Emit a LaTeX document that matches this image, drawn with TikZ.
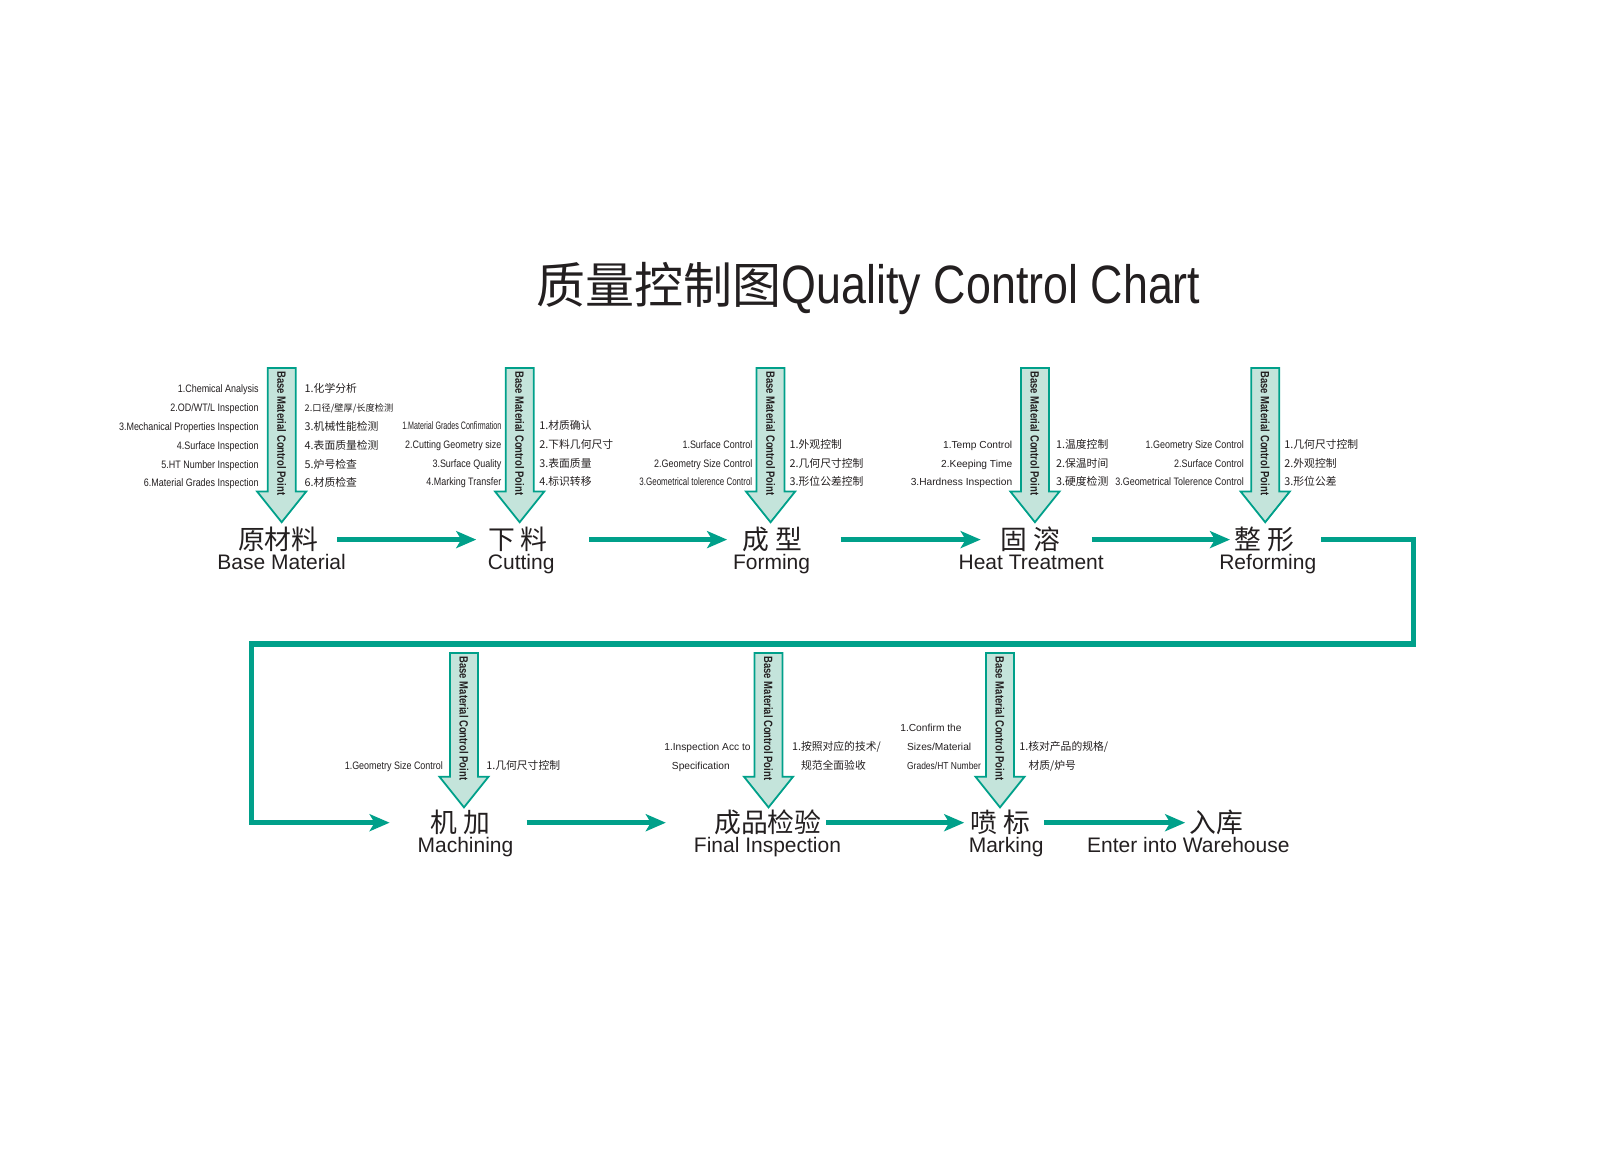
\documentclass[tikz,border=0pt]{standalone}
\usepackage{fontspec}
\setmainfont{Liberation Sans}
\newfontfamily\cjk{Noto Sans CJK SC}
\newfontfamily\cond[FakeStretch=0.83]{Liberation Sans}
\newfontfamily\mcond[FakeStretch=0.74]{Liberation Sans}
\newfontfamily\xcond[FakeStretch=0.66]{Liberation Sans}
\newfontfamily\ttl[FakeStretch=0.83]{Liberation Sans}
\newfontfamily\vbold[FakeStretch=0.79]{Liberation Sans}
\usetikzlibrary{arrows.meta}
\definecolor{qcteal}{RGB}{0,160,138}
\definecolor{qcfill}{RGB}{196,228,219}
\definecolor{qcink}{RGB}{35,31,32}
\begin{document}
\begin{tikzpicture}[x=0.511pt, y=-0.511pt,
        flow/.style={draw=qcteal, line width=2.7pt, -{Stealth[length=10pt,width=8.5pt,inset=2.5pt]}},
        cpbox/.style={draw=qcteal, line width=0.9pt, fill=qcfill},
        cptext/.style={rotate=-90, inner sep=0pt, text=qcink, font=\vbold\bfseries\fontsize{6}{7}\selectfont},
        cnlabel/.style={inner sep=0pt, text=qcink, font=\cjk\fontsize{13.4}{15}\selectfont},
        enlabel/.style={inner sep=0pt, anchor=base, text=qcink, font=\fontsize{10.5}{12}\selectfont},
        entext/.style={inner sep=0pt, text=qcink, font=\cond\fontsize{5.4}{9.38}\selectfont},
        pltext/.style={inner sep=0pt, text=qcink, font=\fontsize{5.1}{9.38}\selectfont},
        cntext/.style={inner sep=0pt, text=qcink, font=\cjk\fontsize{5.4}{9.38}\selectfont}]
    \useasboundingbox (0,0) rectangle (1565.6,1145.8);

    % title
    \node[inner sep=0pt, anchor=base west, text=qcink] (title) at (525,296.5)
        {{\cjk\fontsize{24.5}{28}\selectfont 质量控制图}{\ttl\fontsize{27}{30}\selectfont Quality Control Chart}};

    % control point arrows
    \foreach \x/\y [count=\i] in {275.6/360, 508.5/360, 754/360, 1012.7/360, 1238/360, 454/639, 752/639, 978.5/639}
    {
        \draw[cpbox] (\x-13.7,\y) -- (\x+13.7,\y) -- (\x+13.7,\y+121) -- (\x+24,\y+121)
            -- (\x,\y+151) -- (\x-24,\y+121) -- (\x-13.7,\y+121) -- cycle;
        \node[cptext] (cp\i) at (\x,\y+64) {Base Material Control Point};
    }

    % steps
    \node[cnlabel] (bm) at (272.3,528) {原材料};
    \node[enlabel] (bmen) at (275.6,557.5) {Base Material};
    \node[cnlabel] (cut) at (506.7,528) {下 料};
    \node[enlabel] (cuten) at (510,557.5) {Cutting};
    \node[cnlabel] (form) at (755.5,528) {成 型};
    \node[enlabel] (formen) at (755,557.5) {Forming};
    \node[cnlabel] (heat) at (1008.5,528) {固 溶};
    \node[enlabel] (heaten) at (1009,557.5) {Heat Treatment};
    \node[cnlabel] (ref) at (1237,528) {整 形};
    \node[enlabel] (refen) at (1240.5,557.5) {Reforming};
    \node[cnlabel] (mach) at (450.5,805) {机 加};
    \node[enlabel] (machen) at (455.5,834.5) {Machining};
    \node[cnlabel] (fin) at (751.3,805) {成品检验};
    \node[enlabel] (finen) at (751,834.5) {Final Inspection};
    \node[cnlabel] (mark) at (978.5,805) {喷 标};
    \node[enlabel] (marken) at (984.5,834.5) {Marking};
    \node[cnlabel] (store) at (1190.6,805) {入库};
    \node[enlabel] (storeen) at (1162.8,834.5) {Enter into Warehouse};

    % check lists (base = last line)
    \node[entext, align=right, anchor=base east] (bml) at (253.4,476.3)
        {1.Chemical Analysis\\2.OD/WT/L Inspection\\3.Mechanical Properties Inspection\\4.Surface Inspection\\5.HT Number Inspection\\6.Material Grades Inspection};
    \node[cntext, align=left, anchor=base west] (bmr) at (297.8,476.3)
        {1.化学分析\\{\fontsize{4.6}{9.38}\selectfont 2.口径/壁厚/长度检测}\\3.机械性能检测\\4.表面质量检测\\5.炉号检查\\6.材质检查};
    \node[entext, align=right, anchor=base east] (cutl) at (490.9,475.5)
        {{\xcond 1.Material Grades Confirmation}\\2.Cutting Geometry size\\3.Surface Quality\\4.Marking Transfer};
    \node[cntext, align=left, anchor=base west] (cutr) at (527.4,475.5)
        {1.材质确认\\2.下料几何尺寸\\3.表面质量\\4.标识转移};
    \node[entext, align=right, anchor=base east] (forml) at (736.5,475.5)
        {1.Surface Control\\2.Geometry Size Control\\{\mcond 3.Geometrical tolerence Control}};
    \node[cntext, align=left, anchor=base west] (formr) at (772.3,475.5)
        {1.外观控制\\2.几何尺寸控制\\3.形位公差控制};
    \node[pltext, align=right, anchor=base east] (heatl) at (990.9,475.5)
        {1.Temp Control\\2.Keeping Time\\3.Hardness Inspection};
    \node[cntext, align=left, anchor=base west] (heatr) at (1033,475.5)
        {1.温度控制\\2.保温时间\\3.硬度检测};
    \node[entext, align=right, anchor=base east] (refl) at (1217.5,475.5)
        {1.Geometry Size Control\\2.Surface Control\\3.Geometrical Tolerence Control};
    \node[cntext, align=left, anchor=base west] (refr) at (1256.4,475.5)
        {1.几何尺寸控制\\2.外观控制\\3.形位公差};
    \node[entext, anchor=base east] (machl) at (433.8,753) {1.Geometry Size Control};
    \node[cntext, anchor=base west] (machr) at (475.5,753) {1.几何尺寸控制};
    \node[pltext, align=left, anchor=base west] (finl) at (649.7,752.5)
        {1.Inspection Acc to\\\hspace*{3.8pt}Specification};
    \node[cntext, align=left, anchor=base west] (finr) at (774.6,752.5)
        {1.按照对应的技术/\\\hspace*{4.5pt}规范全面验收};
    \node[pltext, align=left, anchor=base west] (markl) at (880.6,752.5)
        {1.Confirm the\\\hspace*{3.4pt}Sizes/Material\\\hspace*{3.4pt}{\cond Grades/HT Number}};
    \node[cntext, align=left, anchor=base west] (markr) at (997,752.5)
        {1.核对产品的规格/\\\hspace*{4.6pt}材质/炉号};

    % flow
    \coordinate (rr) at (1383,630);
    \coordinate (ll) at (246,630);
    \draw[flow, shorten <=9.1pt, shorten >=5.7pt] (bm) -- (cut);
    \draw[flow, shorten <=20.5pt, shorten >=7.4pt] (cut) -- (form);
    \draw[flow, shorten <=19.1pt, shorten >=9.9pt] (form) -- (heat);
    \draw[flow, shorten <=15.5pt, shorten >=2pt] (heat) -- (ref);
    \draw[flow, shorten <=13.2pt, shorten >=20.3pt] (ref) -| (rr) -- (ll) |- (mach);
    \draw[flow, shorten <=18pt, shorten >=24pt] (mach) -- (fin);
    \draw[flow, shorten <=2.2pt, shorten >=2.8pt] (fin) -- (mark);
    \draw[flow, shorten <=6.8pt, shorten >=2.2pt] (mark) -- (store);
\end{tikzpicture}
\end{document}
